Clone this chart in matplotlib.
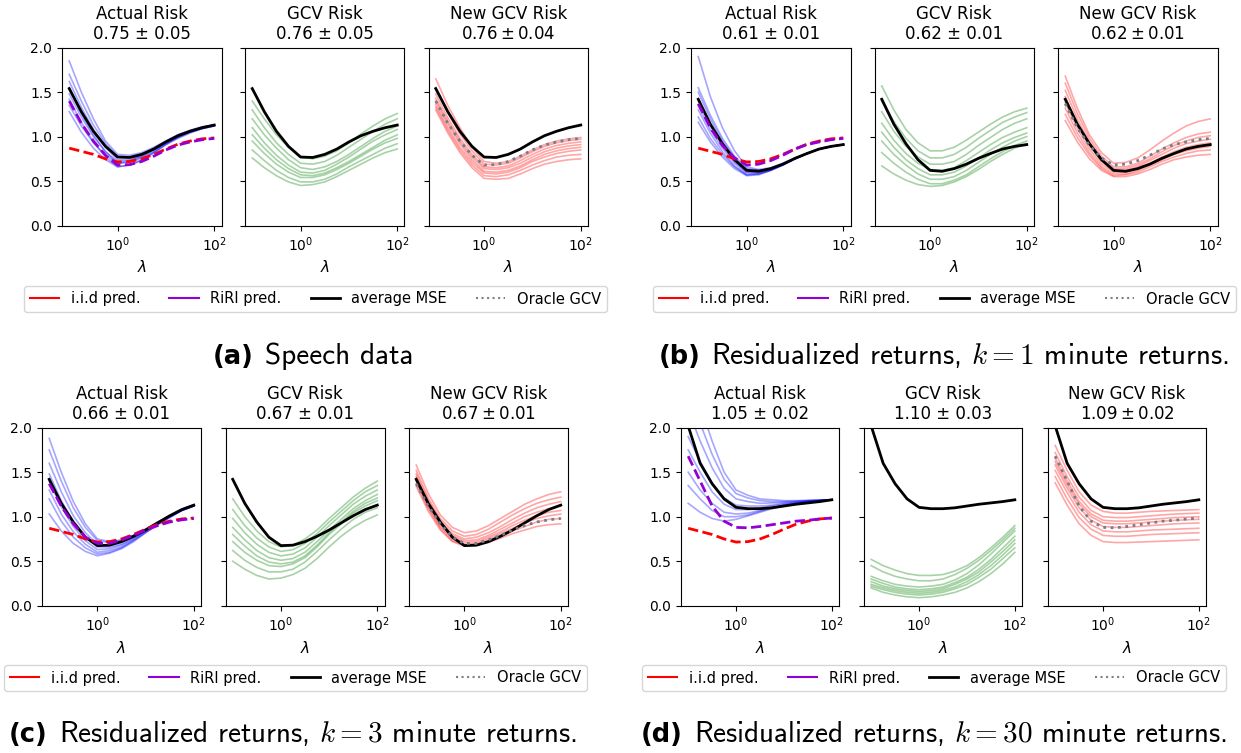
import matplotlib.pyplot as plt
from matplotlib.lines import Line2D
from matplotlib.ticker import NullLocator

W, H = 1241, 753

# lambda grid (log10 exponents) at which the curves were read
lam_exp = [-1, -0.75, -0.5, -0.25, 0, 0.25, 0.5, 0.75, 1, 1.25, 1.5, 1.75, 2]
lam = [10 ** e for e in lam_exp]

# i.i.d prediction, same in every experiment
iid_pred = [0.87, 0.835, 0.80, 0.75, 0.715, 0.72, 0.75, 0.80, 0.86, 0.915, 0.95, 0.975, 0.985]

# ---------------- (a) Speech data ----------------
mse_a = [1.54, 1.28, 1.06, 0.89, 0.77, 0.765, 0.80, 0.86, 0.94, 1.01, 1.06, 1.10, 1.13]
riri_a = [1.40, 1.15, 0.95, 0.79, 0.68, 0.685, 0.72, 0.78, 0.85, 0.905, 0.94, 0.965, 0.98]
actual_a = [
    [1.85, 1.50, 1.20, 0.95, 0.80, 0.79, 0.82, 0.88, 0.95, 1.02, 1.07, 1.11, 1.13],
    [1.70, 1.40, 1.13, 0.92, 0.78, 0.77, 0.80, 0.86, 0.94, 1.01, 1.06, 1.10, 1.13],
    [1.62, 1.33, 1.08, 0.88, 0.74, 0.74, 0.78, 0.85, 0.93, 1.00, 1.06, 1.10, 1.13],
    [1.55, 1.26, 1.02, 0.83, 0.70, 0.71, 0.76, 0.83, 0.92, 0.99, 1.05, 1.09, 1.12],
    [1.48, 1.22, 1.00, 0.83, 0.72, 0.73, 0.79, 0.87, 0.95, 1.02, 1.07, 1.11, 1.13],
    [1.42, 1.16, 0.94, 0.77, 0.66, 0.68, 0.74, 0.82, 0.91, 0.99, 1.05, 1.09, 1.12],
    [1.35, 1.12, 0.93, 0.79, 0.70, 0.72, 0.77, 0.85, 0.93, 1.00, 1.06, 1.10, 1.13],
    [1.28, 1.05, 0.87, 0.74, 0.66, 0.68, 0.73, 0.82, 0.91, 0.98, 1.04, 1.09, 1.12],
]
gcv_a = [
    [1.40, 1.20, 1.02, 0.88, 0.77, 0.75, 0.78, 0.84, 0.93, 1.03, 1.12, 1.20, 1.26],
    [1.30, 1.10, 0.93, 0.80, 0.70, 0.69, 0.72, 0.79, 0.88, 0.97, 1.06, 1.14, 1.20],
    [1.20, 1.02, 0.87, 0.74, 0.65, 0.63, 0.66, 0.72, 0.80, 0.89, 0.98, 1.06, 1.12],
    [1.10, 0.93, 0.79, 0.68, 0.60, 0.59, 0.62, 0.69, 0.77, 0.86, 0.95, 1.02, 1.08],
    [1.02, 0.87, 0.74, 0.64, 0.57, 0.56, 0.59, 0.65, 0.72, 0.80, 0.88, 0.96, 1.02],
    [0.95, 0.81, 0.69, 0.60, 0.54, 0.54, 0.57, 0.63, 0.70, 0.78, 0.86, 0.93, 0.98],
    [0.85, 0.73, 0.62, 0.54, 0.49, 0.49, 0.52, 0.58, 0.66, 0.73, 0.80, 0.87, 0.92],
    [0.76, 0.65, 0.56, 0.49, 0.45, 0.46, 0.49, 0.55, 0.62, 0.69, 0.76, 0.82, 0.86],
]
newgcv_a = [
    [1.65, 1.35, 1.10, 0.88, 0.72, 0.70, 0.72, 0.78, 0.85, 0.91, 0.95, 0.975, 0.99],
    [1.55, 1.27, 1.03, 0.84, 0.69, 0.68, 0.70, 0.76, 0.83, 0.89, 0.93, 0.955, 0.97],
    [1.48, 1.21, 0.98, 0.80, 0.66, 0.65, 0.67, 0.73, 0.80, 0.86, 0.90, 0.925, 0.94],
    [1.43, 1.17, 0.95, 0.77, 0.64, 0.63, 0.65, 0.70, 0.77, 0.83, 0.87, 0.895, 0.91],
    [1.40, 1.14, 0.92, 0.74, 0.61, 0.60, 0.62, 0.67, 0.74, 0.80, 0.84, 0.865, 0.88],
    [1.36, 1.10, 0.88, 0.71, 0.59, 0.58, 0.60, 0.65, 0.72, 0.77, 0.81, 0.835, 0.85],
    [1.33, 1.07, 0.85, 0.68, 0.56, 0.55, 0.57, 0.62, 0.68, 0.73, 0.77, 0.79, 0.80],
    [1.30, 1.04, 0.82, 0.65, 0.53, 0.52, 0.53, 0.58, 0.64, 0.69, 0.72, 0.74, 0.75],
]
scores_a = ["0.75 ± 0.05", "0.76 ± 0.05", r"$0.76 \pm 0.04$"]

# ---------------- (b) k = 1 minute returns ----------------
mse_b = [1.42, 1.14, 0.92, 0.74, 0.62, 0.61, 0.64, 0.69, 0.755, 0.81, 0.86, 0.89, 0.91]
riri_b = [1.37, 1.10, 0.90, 0.76, 0.68, 0.69, 0.73, 0.79, 0.86, 0.91, 0.94, 0.965, 0.98]
actual_b = [
    [1.90, 1.45, 1.10, 0.84, 0.66, 0.63, 0.65, 0.70, 0.76, 0.81, 0.86, 0.89, 0.91],
    [1.55, 1.24, 0.98, 0.78, 0.64, 0.62, 0.64, 0.69, 0.755, 0.81, 0.86, 0.89, 0.91],
    [1.50, 1.20, 0.95, 0.76, 0.63, 0.62, 0.64, 0.69, 0.755, 0.81, 0.86, 0.89, 0.91],
    [1.42, 1.13, 0.90, 0.72, 0.60, 0.60, 0.63, 0.69, 0.75, 0.81, 0.86, 0.89, 0.91],
    [1.35, 1.08, 0.87, 0.70, 0.59, 0.59, 0.63, 0.69, 0.75, 0.81, 0.86, 0.89, 0.91],
    [1.30, 1.04, 0.83, 0.67, 0.57, 0.58, 0.62, 0.68, 0.75, 0.81, 0.86, 0.89, 0.91],
    [1.22, 0.98, 0.80, 0.66, 0.57, 0.58, 0.62, 0.68, 0.75, 0.81, 0.86, 0.89, 0.91],
    [1.16, 0.94, 0.77, 0.64, 0.56, 0.57, 0.62, 0.68, 0.75, 0.81, 0.86, 0.89, 0.91],
]
gcv_b = [
    [1.57, 1.30, 1.08, 0.93, 0.84, 0.84, 0.88, 0.96, 1.05, 1.14, 1.22, 1.28, 1.32],
    [1.40, 1.17, 0.98, 0.84, 0.76, 0.76, 0.80, 0.88, 0.98, 1.07, 1.16, 1.22, 1.27],
    [1.28, 1.06, 0.89, 0.77, 0.69, 0.69, 0.72, 0.80, 0.90, 0.99, 1.08, 1.15, 1.20],
    [1.15, 0.96, 0.81, 0.70, 0.63, 0.62, 0.65, 0.73, 0.82, 0.91, 0.99, 1.05, 1.10],
    [1.05, 0.88, 0.74, 0.64, 0.57, 0.57, 0.60, 0.67, 0.76, 0.85, 0.93, 0.99, 1.04],
    [0.95, 0.80, 0.68, 0.58, 0.52, 0.52, 0.55, 0.62, 0.71, 0.80, 0.88, 0.95, 1.00],
    [0.82, 0.70, 0.60, 0.52, 0.47, 0.47, 0.51, 0.57, 0.66, 0.75, 0.83, 0.90, 0.95],
    [0.67, 0.58, 0.51, 0.46, 0.44, 0.45, 0.49, 0.55, 0.63, 0.72, 0.80, 0.87, 0.92],
]
newgcv_b = [
    [1.68, 1.32, 1.02, 0.82, 0.70, 0.71, 0.76, 0.85, 0.95, 1.04, 1.12, 1.17, 1.20],
    [1.60, 1.26, 0.98, 0.78, 0.66, 0.66, 0.70, 0.78, 0.86, 0.93, 0.99, 1.03, 1.05],
    [1.52, 1.20, 0.94, 0.75, 0.64, 0.64, 0.68, 0.75, 0.83, 0.90, 0.95, 0.99, 1.01],
    [1.45, 1.14, 0.90, 0.72, 0.62, 0.62, 0.66, 0.73, 0.80, 0.87, 0.92, 0.95, 0.97],
    [1.38, 1.09, 0.86, 0.69, 0.60, 0.60, 0.64, 0.70, 0.77, 0.83, 0.88, 0.91, 0.93],
    [1.32, 1.04, 0.82, 0.66, 0.58, 0.58, 0.62, 0.68, 0.74, 0.80, 0.84, 0.87, 0.89],
    [1.25, 0.99, 0.79, 0.64, 0.56, 0.57, 0.60, 0.66, 0.72, 0.77, 0.81, 0.84, 0.85],
    [1.18, 0.94, 0.75, 0.62, 0.55, 0.55, 0.58, 0.63, 0.69, 0.74, 0.77, 0.79, 0.80],
]
scores_b = ["0.61 ± 0.01", "0.62 ± 0.01", r"$0.62 \pm 0.01$"]

# ---------------- (c) k = 3 minute returns ----------------
mse_c = [1.42, 1.15, 0.94, 0.77, 0.675, 0.68, 0.72, 0.78, 0.85, 0.93, 1.01, 1.08, 1.13]
riri_c = [1.37, 1.12, 0.92, 0.77, 0.70, 0.70, 0.74, 0.79, 0.85, 0.90, 0.94, 0.965, 0.98]
actual_c = [
    [1.88, 1.50, 1.17, 0.92, 0.75, 0.72, 0.74, 0.79, 0.86, 0.94, 1.01, 1.08, 1.13],
    [1.75, 1.40, 1.10, 0.88, 0.73, 0.71, 0.73, 0.79, 0.86, 0.94, 1.01, 1.08, 1.13],
    [1.60, 1.28, 1.01, 0.82, 0.69, 0.68, 0.71, 0.77, 0.85, 0.93, 1.01, 1.08, 1.13],
    [1.48, 1.18, 0.94, 0.77, 0.66, 0.66, 0.69, 0.76, 0.84, 0.92, 1.00, 1.07, 1.12],
    [1.40, 1.11, 0.89, 0.73, 0.63, 0.64, 0.68, 0.75, 0.84, 0.92, 1.00, 1.07, 1.12],
    [1.30, 1.03, 0.83, 0.69, 0.60, 0.62, 0.66, 0.74, 0.83, 0.92, 1.00, 1.07, 1.12],
    [1.20, 0.95, 0.77, 0.65, 0.58, 0.60, 0.65, 0.73, 0.82, 0.91, 0.99, 1.07, 1.12],
    [1.03, 0.84, 0.70, 0.61, 0.56, 0.59, 0.64, 0.72, 0.82, 0.91, 0.99, 1.07, 1.12],
]
gcv_c = [
    [1.20, 1.00, 0.84, 0.72, 0.66, 0.68, 0.75, 0.85, 0.98, 1.10, 1.22, 1.32, 1.40],
    [1.08, 0.90, 0.76, 0.66, 0.61, 0.63, 0.70, 0.81, 0.94, 1.06, 1.18, 1.28, 1.35],
    [0.98, 0.82, 0.69, 0.60, 0.56, 0.58, 0.65, 0.77, 0.90, 1.02, 1.14, 1.23, 1.30],
    [0.88, 0.74, 0.62, 0.54, 0.51, 0.53, 0.60, 0.72, 0.85, 0.97, 1.09, 1.18, 1.25],
    [0.80, 0.67, 0.56, 0.49, 0.47, 0.49, 0.56, 0.68, 0.82, 0.94, 1.06, 1.15, 1.21],
    [0.72, 0.60, 0.51, 0.45, 0.44, 0.47, 0.54, 0.66, 0.80, 0.92, 1.04, 1.12, 1.18],
    [0.62, 0.51, 0.43, 0.38, 0.38, 0.41, 0.49, 0.61, 0.74, 0.86, 0.97, 1.05, 1.10],
    [0.50, 0.41, 0.34, 0.30, 0.31, 0.35, 0.42, 0.53, 0.66, 0.78, 0.88, 0.96, 1.02],
]
newgcv_c = [
    [1.58, 1.26, 1.02, 0.88, 0.82, 0.84, 0.90, 0.98, 1.06, 1.14, 1.20, 1.25, 1.28],
    [1.52, 1.21, 0.98, 0.84, 0.78, 0.80, 0.86, 0.94, 1.02, 1.09, 1.15, 1.19, 1.22],
    [1.48, 1.18, 0.95, 0.81, 0.75, 0.77, 0.82, 0.89, 0.97, 1.04, 1.10, 1.14, 1.17],
    [1.45, 1.15, 0.93, 0.79, 0.73, 0.74, 0.79, 0.86, 0.93, 1.00, 1.05, 1.09, 1.12],
    [1.42, 1.13, 0.91, 0.77, 0.71, 0.72, 0.77, 0.83, 0.90, 0.96, 1.01, 1.05, 1.07],
    [1.40, 1.11, 0.89, 0.75, 0.69, 0.70, 0.75, 0.81, 0.87, 0.93, 0.98, 1.01, 1.03],
    [1.37, 1.09, 0.87, 0.73, 0.68, 0.69, 0.73, 0.78, 0.84, 0.89, 0.94, 0.97, 0.98],
    [1.34, 1.06, 0.85, 0.72, 0.67, 0.68, 0.71, 0.76, 0.81, 0.85, 0.89, 0.91, 0.92],
]
scores_c = ["0.66 ± 0.01", "0.67 ± 0.01", r"$0.67 \pm 0.01$"]

# ---------------- (d) k = 30 minute returns ----------------
mse_d = [2.02, 1.60, 1.37, 1.20, 1.105, 1.09, 1.09, 1.10, 1.12, 1.14, 1.155, 1.17, 1.19]
riri_d = [1.68, 1.40, 1.12, 0.95, 0.88, 0.875, 0.89, 0.91, 0.93, 0.95, 0.96, 0.975, 0.985]
actual_d = [
    [2.60, 2.25, 1.85, 1.50, 1.30, 1.24, 1.20, 1.19, 1.18, 1.18, 1.185, 1.19, 1.19],
    [2.40, 2.05, 1.70, 1.42, 1.26, 1.21, 1.18, 1.17, 1.17, 1.175, 1.18, 1.185, 1.19],
    [2.20, 1.85, 1.55, 1.32, 1.20, 1.17, 1.15, 1.155, 1.16, 1.17, 1.18, 1.185, 1.19],
    [1.90, 1.62, 1.38, 1.21, 1.13, 1.12, 1.12, 1.13, 1.15, 1.16, 1.17, 1.18, 1.19],
    [1.75, 1.50, 1.28, 1.14, 1.08, 1.08, 1.10, 1.12, 1.14, 1.16, 1.17, 1.18, 1.19],
    [1.50, 1.30, 1.15, 1.05, 1.03, 1.04, 1.07, 1.10, 1.13, 1.15, 1.17, 1.18, 1.19],
    [1.35, 1.20, 1.07, 1.00, 1.00, 1.02, 1.06, 1.10, 1.13, 1.15, 1.17, 1.18, 1.19],
    [1.15, 1.05, 0.98, 0.95, 0.97, 1.01, 1.05, 1.09, 1.12, 1.14, 1.16, 1.18, 1.19],
]
gcv_d = [
    [0.52, 0.45, 0.40, 0.36, 0.34, 0.34, 0.35, 0.39, 0.45, 0.54, 0.65, 0.77, 0.90],
    [0.45, 0.38, 0.33, 0.30, 0.28, 0.28, 0.30, 0.35, 0.42, 0.51, 0.62, 0.74, 0.87],
    [0.33, 0.28, 0.24, 0.22, 0.21, 0.22, 0.24, 0.29, 0.36, 0.46, 0.58, 0.71, 0.84],
    [0.30, 0.25, 0.21, 0.19, 0.18, 0.19, 0.21, 0.26, 0.32, 0.41, 0.52, 0.65, 0.78],
    [0.27, 0.22, 0.19, 0.17, 0.16, 0.17, 0.19, 0.24, 0.30, 0.38, 0.49, 0.61, 0.74],
    [0.24, 0.20, 0.17, 0.15, 0.14, 0.15, 0.17, 0.21, 0.27, 0.35, 0.45, 0.57, 0.70],
    [0.22, 0.18, 0.15, 0.13, 0.12, 0.13, 0.15, 0.19, 0.24, 0.32, 0.41, 0.53, 0.65],
    [0.20, 0.15, 0.12, 0.10, 0.09, 0.10, 0.12, 0.15, 0.20, 0.27, 0.36, 0.47, 0.60],
]
newgcv_d = [
    [1.80, 1.52, 1.28, 1.13, 1.06, 1.04, 1.04, 1.05, 1.06, 1.065, 1.07, 1.075, 1.08],
    [1.72, 1.45, 1.22, 1.07, 1.00, 0.99, 0.99, 1.00, 1.01, 1.02, 1.03, 1.035, 1.04],
    [1.66, 1.40, 1.17, 1.03, 0.96, 0.95, 0.95, 0.96, 0.97, 0.98, 0.99, 0.995, 1.00],
    [1.62, 1.36, 1.14, 1.00, 0.93, 0.92, 0.92, 0.93, 0.94, 0.95, 0.96, 0.965, 0.97],
    [1.58, 1.32, 1.10, 0.96, 0.89, 0.88, 0.88, 0.89, 0.90, 0.91, 0.92, 0.925, 0.93],
    [1.52, 1.27, 1.05, 0.91, 0.84, 0.83, 0.83, 0.84, 0.85, 0.855, 0.86, 0.865, 0.87],
    [1.45, 1.20, 0.99, 0.86, 0.79, 0.78, 0.78, 0.79, 0.80, 0.805, 0.81, 0.815, 0.82],
    [1.38, 1.13, 0.92, 0.79, 0.72, 0.71, 0.71, 0.715, 0.72, 0.725, 0.73, 0.735, 0.74],
]
scores_d = ["1.05 ± 0.02", "1.10 ± 0.03", r"$1.09 \pm 0.02$"]

panel_names = ["Actual Risk", "GCV Risk", "New GCV Risk"]
legend_labels = ["i.i.d pred.", "RiRI pred.", "average MSE", "Oracle GCV"]

fig = plt.figure(figsize=(W / 100, H / 100), dpi=100)


def add_ax(left, right, top, bottom):
    return fig.add_axes([left / W, 1 - bottom / H, (right - left) / W, (bottom - top) / H])


def draw_group(lefts, width, top, bottom, mse, riri, actual, gcv, newgcv, scores,
               legend_xy):
    axs = [add_ax(l, l + width, top, bottom) for l in lefts]
    for curve in actual:
        axs[0].plot(lam, curve, color='blue', alpha=0.35, lw=1.2)
    for curve in gcv:
        axs[1].plot(lam, curve, color='green', alpha=0.35, lw=1.2)
    for curve in newgcv:
        axs[2].plot(lam, curve, color='red', alpha=0.35, lw=1.2)
    for ax in axs:
        ax.plot(lam, mse, color='black', lw=2)
    axs[0].plot(lam, iid_pred, color='red', ls='--', lw=2)
    axs[0].plot(lam, riri, color='darkviolet', ls='--', lw=2)
    axs[2].plot(lam, riri, color='slategrey', ls=':', lw=2)

    for i, ax in enumerate(axs):
        ax.set_xscale('log')
        ax.set_xticks([1, 100])
        ax.xaxis.set_minor_locator(NullLocator())
        ax.set_ylim(0, 2)
        ax.set_yticks([0, 0.5, 1.0, 1.5, 2.0])
        if i > 0:
            ax.set_yticklabels([])
        ax.tick_params(labelsize=10)
        ax.set_xlabel(r'$\lambda$', fontsize=11)
        ax.set_title(f"{panel_names[i]}\n{scores[i]}", fontsize=12)

    handles = [
        Line2D([], [], color='red', lw=1.5),
        Line2D([], [], color='darkviolet', lw=1.5),
        Line2D([], [], color='black', lw=2),
        Line2D([], [], color='grey', ls=':', lw=1.5),
    ]
    fig.legend(handles, legend_labels, loc='center', ncol=4, fontsize=10.5,
               bbox_to_anchor=(legend_xy[0] / W, 1 - legend_xy[1] / H))


draw_group([62, 245, 428.5], 159.5, 47.7, 225.5, mse_a, riri_a,
           actual_a, gcv_a, newgcv_a, scores_a, (315.5, 299))
draw_group([691, 874.5, 1058], 159.5, 47.7, 225.5, mse_b, riri_b,
           actual_b, gcv_b, newgcv_b, scores_b, (944.5, 299))
draw_group([42, 225.5, 409], 159, 427.7, 605.7, mse_c, riri_c,
           actual_c, gcv_c, newgcv_c, scores_c, (295.5, 678))
draw_group([681, 864, 1048], 158, 427.7, 605.7, mse_d, riri_d,
           actual_d, gcv_d, newgcv_d, scores_d, (934, 678))

# sub-figure captions
captions = [
    ("(a)", "Speech data", 313, 364),
    ("(b)", r"Residualized returns, $k=1$ minute returns.", 944, 364),
    ("(c)", r"Residualized returns, $k=3$ minute returns.", 293, 742),
    ("(d)", r"Residualized returns, $k=30$ minute returns.", 934, 742),
]
fig.canvas.draw()
renderer = fig.canvas.get_renderer()
for tag, rest, cx, base in captions:
    t1 = fig.text(0, 1 - base / H, tag, fontsize=18.5, fontweight='bold', va='baseline')
    t2 = fig.text(0, 1 - base / H, rest, fontsize=21, family='cmss10',
                  math_fontfamily='cm', va='baseline')
    w1 = t1.get_window_extent(renderer).width
    w2 = t2.get_window_extent(renderer).width
    gap = 11
    x0 = cx - (w1 + gap + w2) / 2
    t1.set_x(x0 / W)
    t2.set_x((x0 + w1 + gap) / W)

fig.savefig("out.png", dpi=100)
